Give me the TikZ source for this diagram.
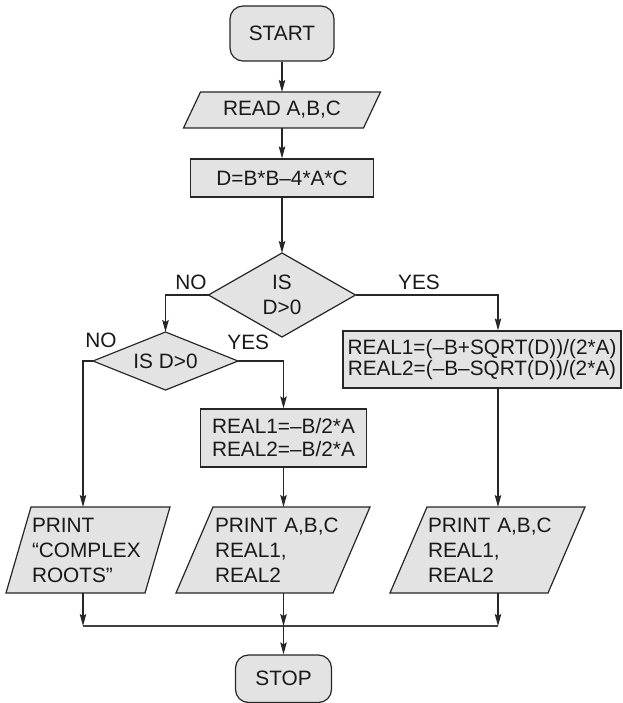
\documentclass[tikz,border=0pt]{standalone}
\usepackage{fontspec}
\setmainfont{Liberation Sans}
\usetikzlibrary{arrows.meta,calc}
\pgfdeclarelayer{bg}
\pgfsetlayers{bg,main}

\begin{document}
\begin{tikzpicture}[x=1pt,y=-1pt,
  font=\fontsize{20.8}{25}\selectfont,
  every node/.style={text=black!90},
  shapefill/.style={fill=black!11, draw=black!85, line width=1.2pt},
  term/.style={shapefill, rounded corners=13pt, inner sep=0pt},
  proc/.style={shapefill, inner sep=0pt},
  frame/.style={inner sep=0pt, outer sep=0pt},
  lbl/.style={inner sep=0pt, outer sep=0pt},
  arr/.style={draw=black!85, line width=1.2pt, -{Stealth[length=12pt,width=6.5pt,inset=2pt]}},
  joinline/.style={draw=black!75, line width=1.7pt},
]
\useasboundingbox (0,0) rectangle (622,703);

% main column
\node[term, minimum width=104pt, minimum height=55pt] (start) at (282,33.5) {START};
\node[frame, minimum width=197pt, minimum height=36pt] (read) at (282,110) {READ A,B,C};
\node[proc, minimum width=183pt, minimum height=38pt] (calc) at (282,178) {D=B*B–4*A*C};
\node[frame, minimum width=147pt, minimum height=84pt, align=center] (d1) at (282,295) {IS\\D>0};

% branches
\node[frame, minimum width=145pt, minimum height=58pt] (d2) at (165.5,361) {IS D>0};
\node[proc, minimum width=278pt, minimum height=57pt, align=center,
      font=\fontsize{20.8}{21.5}\selectfont] (r1) at (482,359.5)
      {REAL1=(–B+SQRT(D))/(2*A)\\REAL2=(–B–SQRT(D))/(2*A)};
\node[proc, minimum width=166pt, minimum height=58pt, align=center,
      font=\fontsize{20.8}{23}\selectfont] (r2) at (283.5,438)
      {REAL1=–B/2*A\\REAL2=–B/2*A};

% output blocks
\node[frame, text width=112pt, inner xsep=26pt, minimum height=86pt, align=left] (p1) at (88,550)
      {PRINT\\“COMPLEX\\ROOTS”};
\node[frame, text width=116pt, inner xsep=39pt, minimum height=86pt, align=left] (p2) at (273,550)
      {\mbox{PRINT A,B,C}\\REAL1,\\REAL2};
\node[frame, text width=119pt, inner xsep=38pt, minimum height=86pt, align=left] (p3) at (487.5,550)
      {\mbox{PRINT A,B,C}\\REAL1,\\REAL2};

\node[term, minimum width=96pt, minimum height=47.5pt] (stop) at (283.5,678.75) {STOP};

% branch labels
\node[lbl] (no1) at (191,282.5) {NO};
\node[lbl] (yes1) at (419,282.5) {YES};
\node[lbl] (no2) at (101,340.5) {NO};
\node[lbl] (yes2) at (248.3,342.5) {YES};

% outlines of decision and input/output shapes
\begin{pgfonlayer}{bg}
  \fill[white] (0,0) rectangle (622,703);
  \path[shapefill] ([xshift=17pt]read.north west) -- (read.north east)
        -- ([xshift=-17pt]read.south east) -- (read.south west) -- cycle;
  \path[shapefill] (d1.north) -- (d1.east) -- (d1.south) -- (d1.west) -- cycle;
  \path[shapefill] (d2.north) -- (d2.east) -- (d2.south) -- (d2.west) -- cycle;
  \path[shapefill] ([xshift=25pt]p1.north west) -- (p1.north east)
        -- ([xshift=-25pt]p1.south east) -- (p1.south west) -- cycle;
  \path[shapefill] ([xshift=37pt]p2.north west) -- (p2.north east)
        -- ([xshift=-37pt]p2.south east) -- (p2.south west) -- cycle;
  \path[shapefill] ([xshift=37pt]p3.north west) -- (p3.north east)
        -- ([xshift=-37pt]p3.south east) -- (p3.south west) -- cycle;
\end{pgfonlayer}

% column positions of the side connectors
\coordinate (rcol) at (498,0);
\coordinate (join) at (283.5,626);

% connectors
\draw[arr] (start) -- (read);
\draw[arr] (read) -- (calc);
\draw[arr] (calc) -- (d1);
\draw[arr] (d1.west) -| (d2.north);
\draw[arr] (d1.east) -| (rcol |- r1.north);
\draw[arr] (d2.east) -| (r2.north);
\draw[arr] (d2.west) -- ++(-10,0) coordinate (lcol) -- (lcol |- p1.north);
\draw[arr] (rcol |- r1.south) -- (rcol |- p3.north);
\draw[arr] (r2.south) -- (r2.south |- p2.north);

\draw[joinline] (lcol |- join) -- (rcol |- join);
\draw[arr] (lcol |- p1.south) -- (lcol |- join);
\draw[arr] (join |- p2.south) -- (join);
\draw[arr] (rcol |- p3.south) -- (rcol |- join);
\draw[arr] (join) -- (stop.north);
\end{tikzpicture}
\end{document}
